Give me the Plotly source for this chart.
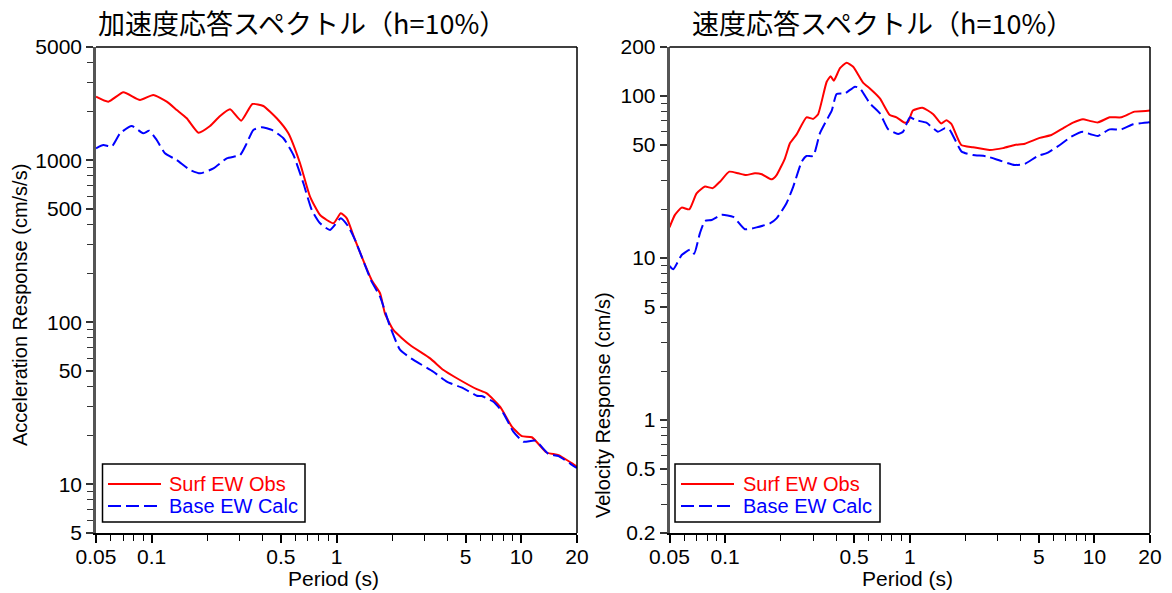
import plotly.graph_objects as go
import math

# ---------------- data ----------------
acc_surf_period = [0.05, 0.0583, 0.0703, 0.0865, 0.102, 0.1207, 0.1367, 0.1548, 0.179, 0.207,
                   0.2345, 0.2655, 0.305, 0.351, 0.402, 0.475, 0.549, 0.635, 0.719, 0.815,
                   0.962, 1.055, 1.137, 1.26, 1.55, 1.72, 1.83, 2.03, 2.5, 3.21,
                   3.79, 4.48, 5.74, 6.5, 7.67, 8.88, 10.06, 11.4, 13.7, 15.9, 19.5, 20]
acc_surf = [2466, 2298, 2626, 2355, 2528, 2298, 2043, 1815, 1480, 1627,
            1876, 2063, 1754, 2223, 2162, 1815, 1466, 958, 596, 459,
            408, 470, 438, 322, 182, 151, 113, 89.6, 72.3, 59.8,
            50.7, 45.1, 38.6, 36.4, 30.1, 22.7, 19.8, 19.5, 15.7, 15.1, 13.1, 12.8]

acc_base_period = [0.05, 0.0548, 0.0608, 0.0675, 0.078, 0.090, 0.097, 0.1065, 0.118, 0.1367,
                   0.1614, 0.183, 0.216, 0.255, 0.301, 0.327, 0.355, 0.394, 0.447, 0.516,
                   0.585, 0.662, 0.735, 0.815, 0.923, 1.055, 1.16, 1.26, 1.55, 1.72,
                   1.95, 2.21, 2.61, 3.34, 3.95, 4.86, 5.74, 6.1, 7.06, 8.0,
                   9.05, 10.26, 11.9, 14.0, 15.9, 19.5, 20]
acc_base = [1185, 1242, 1213, 1466, 1627, 1466, 1521, 1334, 1104, 1003,
            871, 830, 891, 1028, 1077, 1273, 1538, 1597, 1538, 1366,
            1077, 721, 493, 408, 371, 438, 389, 322, 178, 144,
            93.8, 67.4, 58.5, 49.5, 43, 39.1, 35.2, 35, 32.3, 27.4,
            21.1, 18.3, 18.6, 15.4, 14.9, 12.8, 12.6]

vel_surf_period = [0.05, 0.0535, 0.0582, 0.064, 0.0701, 0.0778, 0.0857, 0.0938, 0.1054, 0.118,
                   0.1297, 0.145, 0.158, 0.179, 0.190, 0.211, 0.2245, 0.244, 0.276, 0.300,
                   0.319, 0.355, 0.373, 0.388, 0.419, 0.455, 0.494, 0.560, 0.608, 0.689,
                   0.780, 0.848, 0.940, 0.98, 1.04, 1.17, 1.34, 1.48, 1.58, 1.68,
                   1.90, 2.20, 2.71, 3.20, 3.70, 4.20, 5.06, 5.85, 6.76, 7.66,
                   8.67, 9.42, 10.45, 12.1, 14.0, 16.5, 19.5, 20]
vel_surf = [15.4, 18.4, 20.4, 19.9, 25.0, 27.5, 26.9, 29.5, 34.0, 33.2,
            32.4, 33.2, 32.8, 30.5, 32.4, 41.1, 50.9, 57.8, 73.6, 72,
            77, 122, 132, 124, 148, 160, 151, 120, 111, 96.4,
            76, 73.6, 68.2, 69, 81, 84.4, 77, 67.5, 70.6, 67,
            49.7, 48.1, 46.3, 47.5, 49.7, 50.6, 55, 57.3, 63, 68.2,
            71.6, 70, 68.5, 73.6, 73.6, 79.8, 80.8, 81]

vel_base_period = [0.05, 0.0524, 0.0582, 0.0645, 0.068, 0.0731, 0.0778, 0.0846, 0.0957, 0.1107,
                   0.128, 0.148, 0.175, 0.190, 0.215, 0.234, 0.260, 0.276, 0.300, 0.326,
                   0.355, 0.378, 0.402, 0.446, 0.505, 0.537, 0.608, 0.689, 0.764, 0.865,
                   0.92, 1.0, 1.08, 1.23, 1.42, 1.55, 1.64, 1.91, 2.2, 2.6,
                   3.1, 3.7, 4.2, 4.9, 5.6, 6.5, 7.5, 8.67, 9.6, 10.45,
                   12.1, 14.0, 16.2, 19.5, 20]
vel_base = [8.9, 8.5, 10.4, 11.2, 10.6, 14.2, 16.9, 17.1, 18.4, 17.9,
            15.0, 15.4, 16.3, 17.5, 21.7, 27.5, 39.2, 42.5, 42.5, 58.6,
            70.8, 80.9, 102.6, 103.5, 113.8, 111, 89.8, 78, 62.1, 58.1,
            60, 73.6, 70.6, 68.2, 60, 63, 62, 45.2, 43.1, 42.3,
            39.7, 37.4, 38, 42.3, 44.6, 49.7, 55.9, 60, 57.7, 56.5,
            62, 62, 66.7, 68.5, 68.5]

x_major = [0.05, 0.1, 0.5, 1, 5, 10, 20]
x_major_text = ["0.05", "0.1", "0.5", "1", "5", "10", "20"]
acc_major = [5, 10, 50, 100, 500, 1000, 5000]
acc_major_text = ["5", "10", "50", "100", "500", "1000", "5000"]
vel_major = [0.2, 0.5, 1, 5, 10, 50, 100, 200]
vel_major_text = ["0.2", "0.5", "1", "5", "10", "50", "100", "200"]

title_acc = "加速度応答スペクトル（h=10%）"
title_vel = "速度応答スペクトル（h=10%）"
xlabel = "Period (s)"
ylabel_acc = "Acceleration Response (cm/s/s)"
ylabel_vel = "Velocity Response (cm/s)"
name_surf = "Surf EW Obs"
name_base = "Base EW Calc"


def minor_vals(lo, hi):
    out = []
    e = math.floor(math.log10(lo)) - 1
    while 10 ** e <= hi:
        for m in range(1, 10):
            v = round(m * 10 ** e, 10)
            if lo <= v <= hi:
                out.append(v)
        e += 1
    return out


FONT = "Liberation Sans, Arial, sans-serif"
CJK = "Noto Sans CJK JP"
RED = "#ff0000"
BLUE = "#0000ff"
FS = 21
LFS = 20
DASH = "13px,5px"

fig = go.Figure()

common = dict(mode="lines", line_shape="spline")
fig.add_trace(go.Scatter(x=acc_surf_period, y=acc_surf, name=name_surf,
                         line=dict(color=RED, width=2, smoothing=0.5), xaxis="x", yaxis="y", **common))
fig.add_trace(go.Scatter(x=acc_base_period, y=acc_base, name=name_base,
                         line=dict(color=BLUE, width=2, dash=DASH, smoothing=0.5), xaxis="x", yaxis="y", **common))
fig.add_trace(go.Scatter(x=vel_surf_period, y=vel_surf, name=name_surf,
                         line=dict(color=RED, width=2, smoothing=0.5), xaxis="x2", yaxis="y2", **common))
fig.add_trace(go.Scatter(x=vel_base_period, y=vel_base, name=name_base,
                         line=dict(color=BLUE, width=2, dash=DASH, smoothing=0.5), xaxis="x2", yaxis="y2", **common))

W, H = 1172, 593
ydom = [(H - 533) / H, (H - 47) / H]
xdom1 = [96 / W, 577 / W]
xdom2 = [669.5 / W, 1150 / W]

tickfont = dict(family=FONT, size=FS, color="black")


def xaxis_cfg(domain, anchor):
    return dict(domain=domain, anchor=anchor, type="log",
                range=[math.log10(0.05), math.log10(20)],
                tickmode="array", tickvals=x_major, ticktext=x_major_text,
                ticks="outside", ticklen=8, tickwidth=1.5, tickcolor="black",
                ticklabelstandoff=-4,
                minor=dict(tickmode="array", tickvals=[v for v in minor_vals(0.05, 20) if v not in x_major],
                           ticks="outside", ticklen=6, tickwidth=1.2, tickcolor="black"),
                showgrid=False, zeroline=False, showline=True, linecolor="black", linewidth=2,
                tickfont=tickfont, automargin=False)


def yaxis_cfg(domain, anchor, rng, major, major_text):
    return dict(domain=domain, anchor=anchor, type="log",
                range=[math.log10(rng[0]), math.log10(rng[1])],
                tickmode="array", tickvals=major, ticktext=major_text,
                ticks="outside", ticklen=7, tickwidth=1.5, tickcolor="#333",
                minor=dict(tickmode="array", tickvals=[v for v in minor_vals(rng[0], rng[1]) if v not in major],
                           ticks="outside", ticklen=6, tickwidth=1.2, tickcolor="#333"),
                showgrid=False, zeroline=False, showline=True, linecolor="#555", linewidth=2.5,
                tickfont=tickfont, automargin=False)


def ann(text, xpx, ypx, size, family, angle=0, xanchor="center", color="black"):
    return dict(text=text, x=xpx / W, y=(H - ypx) / H, xref="paper", yref="paper",
                xanchor=xanchor, yanchor="middle", showarrow=False, textangle=angle,
                font=dict(family=family, size=size, color=color))


def px_line(x0, x1, y0, y1, color, width=1.5, dash=None):
    ln = dict(color=color, width=width)
    if dash:
        ln["dash"] = dash
    return dict(type="line", xref="paper", yref="paper", x0=x0 / W, x1=x1 / W,
                y0=(H - y0) / H, y1=(H - y1) / H, line=ln)


def legend_parts(bx0, bx1, by0, by1, lx0, lx1, tx, row1, row2):
    shapes = [dict(type="rect", xref="paper", yref="paper", x0=bx0 / W, x1=bx1 / W,
                   y0=(H - by1) / H, y1=(H - by0) / H, fillcolor="white",
                   line=dict(color="black", width=1.5), layer="above"),
              px_line(lx0, lx1, row1, row1, RED, 2),
              px_line(lx0, lx1, row2, row2, BLUE, 2, DASH)]
    anns = [ann(name_surf, tx, row1, LFS, FONT, xanchor="left", color=RED),
            ann(name_base, tx, row2, LFS, FONT, xanchor="left", color=BLUE)]
    return shapes, anns


frame = [
    dict(type="line", xref="x domain", yref="y domain", x0=0, x1=1, y0=1, y1=1,
         line=dict(color="black", width=1.5)),
    dict(type="line", xref="x domain", yref="y domain", x0=1, x1=1, y0=0, y1=1,
         line=dict(color="black", width=1.5)),
    dict(type="line", xref="x2 domain", yref="y2 domain", x0=0, x1=1, y0=1, y1=1,
         line=dict(color="black", width=1.5)),
    dict(type="line", xref="x2 domain", yref="y2 domain", x0=1, x1=1, y0=0, y1=1,
         line=dict(color="black", width=1.5)),
]
lg1_s, lg1_a = legend_parts(102.5, 305, 464, 522, 108, 161, 167, 484, 506)
lg2_s, lg2_a = legend_parts(675, 880, 464, 522, 681, 734, 741, 484, 506)

fig.update_layout(
    width=W, height=H,
    margin=dict(l=0, r=0, t=0, b=0),
    paper_bgcolor="white", plot_bgcolor="white",
    showlegend=False,
    xaxis=xaxis_cfg(xdom1, "y"),
    yaxis=yaxis_cfg(ydom, "x", (5, 5000), acc_major, acc_major_text),
    xaxis2=xaxis_cfg(xdom2, "y2"),
    yaxis2=yaxis_cfg(ydom, "x2", (0.2, 200), vel_major, vel_major_text),
    annotations=[
        ann(title_acc, 96, 22, 27, CJK, xanchor="left"),
        ann(title_vel, 690, 22, 27, CJK, xanchor="left"),
        ann(xlabel, 333, 578, FS, FONT),
        ann(xlabel, 907, 578, FS, FONT),
        ann(ylabel_acc, 20, 305, 20, FONT, angle=-90),
        ann(ylabel_vel, 603, 405, 20, FONT, angle=-90),
    ] + lg1_a + lg2_a,
    shapes=frame + lg1_s + lg2_s,
)

fig.write_html("out.html")
